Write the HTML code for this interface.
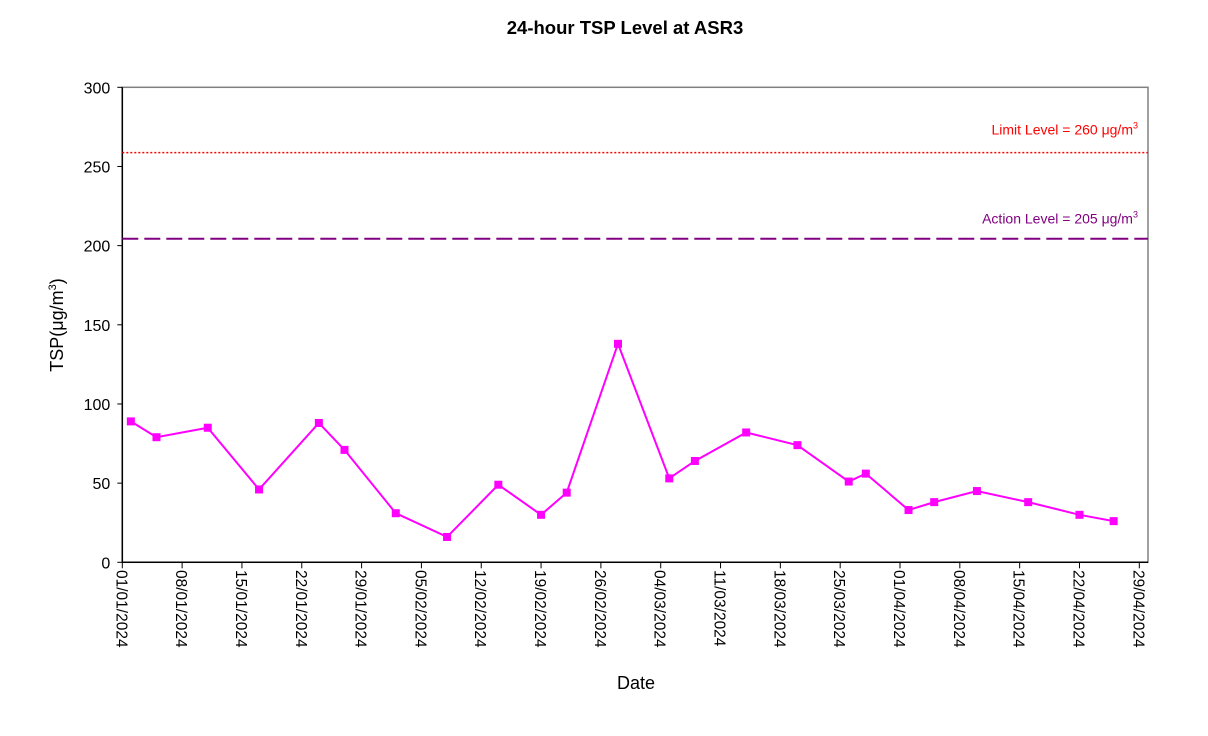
<!DOCTYPE html>
<html><head><meta charset="utf-8"><style>
body{margin:0;background:#fff;}
svg{display:block;font-family:"Liberation Sans",Arial,sans-serif;}
</style></head><body>
<svg id="c" width="1208" height="736" xmlns="http://www.w3.org/2000/svg">
<text x="625" y="34" text-anchor="middle" font-size="18.5" font-weight="bold">24-hour TSP Level at ASR3</text>
<text x="636" y="689" text-anchor="middle" font-size="18">Date</text>
<text transform="translate(63,325) rotate(-90)" text-anchor="middle" font-size="18">TSP(μg/m<tspan font-size="11" dy="-7">3</tspan><tspan dy="7">)</tspan></text>
<rect x="122.3" y="87.3" width="1025.7" height="475" fill="none" stroke="#808080" stroke-width="1.5"/>
<g id="grid"></g>
<g id="marks"></g>
</svg>
<script>
const days = [1,4,10,16,23,26,32,38,44,49,52,58,64,67,73,79,85,87,92,95,100,106,112,116];
const values = [89,79,85,46,88,71,31,16,49,30,44,138,53,64,82,74,51,56,33,38,45,38,30,26];
const yTicks = [0,50,100,150,200,250,300];
const xTickLabels = ["01/01/2024","08/01/2024","15/01/2024","22/01/2024","29/01/2024","05/02/2024","12/02/2024","19/02/2024","26/02/2024","04/03/2024","11/03/2024","18/03/2024","25/03/2024","01/04/2024","08/04/2024","15/04/2024","22/04/2024","29/04/2024"];
const limitLevel = 260;
const actionLevel = 205;

const X0=122.3, PXD=(1139.3-122.3)/119, Y0=562.3, PXV=475/300;
const xs=d=>X0+d*PXD, ys=v=>Y0-v*PXV;
const NS="http://www.w3.org/2000/svg";
const g=document.getElementById('grid'), m=document.getElementById('marks');
function mk(tag,attrs,parent){const e=document.createElementNS(NS,tag);for(const k in attrs)e.setAttribute(k,attrs[k]);parent.appendChild(e);return e;}

let ax=mk('line',{x1:X0,y1:87.3,x2:X0,y2:Y0,stroke:'#000','stroke-width':1.5},g);


let bx=mk('line',{x1:X0,y1:Y0,x2:1148,y2:Y0,stroke:'#000','stroke-width':1.5},g);



yTicks.forEach(v=>{
  mk('line',{x1:X0-5,y1:ys(v),x2:X0,y2:ys(v),stroke:'#000'},g);
  const t=mk('text',{x:X0-12,y:ys(v)+6,'text-anchor':'end','font-size':16},g);
  t.textContent=v;
  
  
});
xTickLabels.forEach((lab,i)=>{
  const x=xs(i*7);
  mk('line',{x1:x,y1:Y0,x2:x,y2:Y0+6,stroke:'#000'},g);
  const t=mk('text',{transform:`translate(${x-6},570) rotate(90)`,'font-size':15.5},g);
  t.textContent=lab;
  
  
});

let ll=mk('line',{x1:X0,y1:ys(limitLevel)+2,x2:1148,y2:ys(limitLevel)+2,stroke:'#ff0000','stroke-width':1.5,'stroke-dasharray':'2,2'},m);


let lt=mk('text',{x:1138,y:ys(limitLevel)-16,'text-anchor':'end','font-size':14,fill:'#ff0000'},m);
lt.innerHTML='Limit Level = '+limitLevel+' μg/m<tspan font-size="9" dy="-6">3</tspan>';


let al=mk('line',{x1:X0,y1:ys(actionLevel)+1,x2:1148,y2:ys(actionLevel)+1,stroke:'#800080','stroke-width':2,'stroke-dasharray':'16,6'},m);


let at=mk('text',{x:1138,y:ys(actionLevel)-14,'text-anchor':'end','font-size':14,fill:'#800080'},m);
at.innerHTML='Action Level = '+actionLevel+' μg/m<tspan font-size="9" dy="-6">3</tspan>';



let pl=mk('polyline',{points:days.map((d,i)=>xs(d)+','+ys(values[i])).join(' '),fill:'none',stroke:'#ff00ff','stroke-width':2},m);


days.forEach((d,i)=>{
  const r=mk('rect',{x:xs(d)-4,y:ys(values[i])-4,width:8,height:8,fill:'#ff00ff'},m);
  
  
});
</script>
</body></html>
